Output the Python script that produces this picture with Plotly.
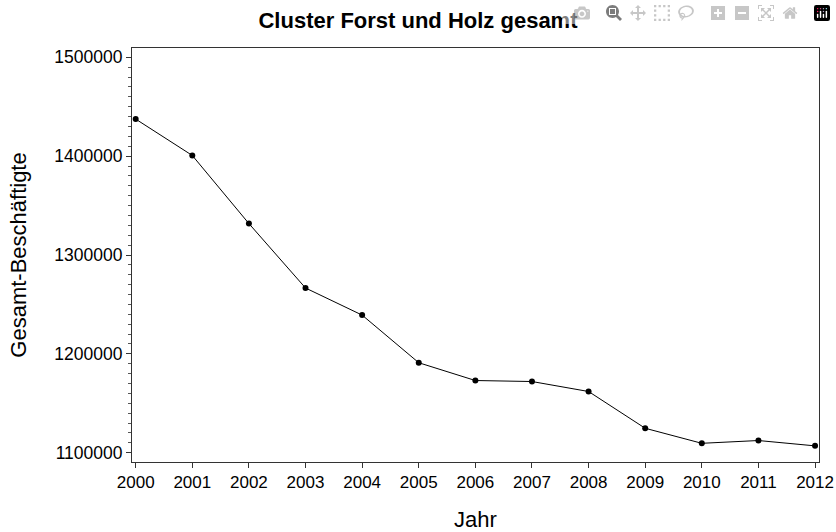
import plotly.graph_objects as go

# Beschäftigte im Cluster Forst und Holz
jahre = [2000, 2001, 2002, 2003, 2004, 2005, 2006, 2007, 2008, 2009, 2010, 2011, 2012]
beschaeftigte = [1437500, 1400700, 1331800, 1266600, 1239200, 1191000, 1173000,
                 1172000, 1161900, 1124700, 1109500, 1112300, 1106900]

y_ticks = [1100000, 1200000, 1300000, 1400000, 1500000]

fig = go.Figure()

fig.add_trace(go.Scatter(
    x=jahre, y=beschaeftigte,
    mode='lines+markers',
    line=dict(color='black', width=1),
    marker=dict(color='black', size=6),
    showlegend=False
))

fig.update_layout(
    width=836, height=532,
    paper_bgcolor='white',
    plot_bgcolor='white',
    margin=dict(l=132, r=17, t=48, b=70, autoexpand=False),
    font=dict(family='Liberation Sans, Arial, sans-serif', color='black'),
    title=dict(
        text='<b>Cluster Forst und Holz gesamt</b>',
        x=0.5, xanchor='center',
        yref='container', y=0.9624, yanchor='middle',
        font=dict(size=22)
    ),
    xaxis=dict(
        title=dict(text='Jahr', font=dict(size=22), standoff=28),
        automargin=False,
        range=[1999.935, 2012.07],
        tickmode='array', tickvals=jahre,
        ticktext=[str(j) for j in jahre],
        tickfont=dict(size=17),
        ticklabeloverflow='allow',
        ticks='outside', ticklen=5, tickcolor='#333',
        showline=True, linecolor='#333', linewidth=1, mirror=True,
        showgrid=False, zeroline=False
    ),
    yaxis=dict(
        title=dict(text='Gesamt-Beschäftigte', font=dict(size=22), standoff=21),
        automargin=False,
        range=[1090580, 1509420],
        tickmode='array', tickvals=y_ticks,
        ticktext=[str(v) for v in y_ticks],
        tickfont=dict(size=17.5),
        ticks='outside', ticklen=5, tickcolor='#333',
        minor=dict(ticks='outside', ticklen=3, dtick=10000, tickcolor='#555'),
        showline=True, linecolor='#333', linewidth=1, mirror=True,
        showgrid=False, zeroline=False
    )
)

# drop the default 8px page margin so the figure fills the window
fig.write_html("out.html", post_script="document.body.style.margin = '0';")
